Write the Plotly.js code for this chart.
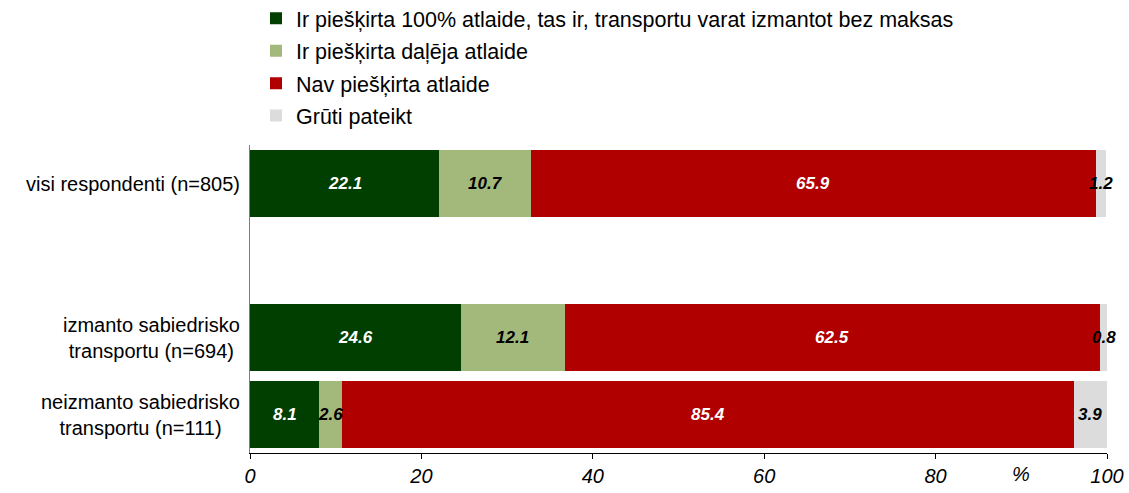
<!DOCTYPE html>
<html>
<head>
<meta charset="utf-8">
<script src="https://cdn.plot.ly/plotly-3.0.1.min.js"></script>
<style>html,body{margin:0;padding:0;background:#fff;}#chart{width:1129px;height:493px;}</style>
</head>
<body>
<div id="chart"></div>
<script>
const categories = ["visi respondenti (n=805)", "", "izmanto sabiedrisko<br>transportu (n=694)", "neizmanto sabiedrisko<br>transportu (n=111)"];
const seriesNames = ["Ir piešķirta 100% atlaide, tas ir, transportu varat izmantot bez maksas", "Ir piešķirta daļēja atlaide", "Nav piešķirta atlaide", "Grūti pateikt"];
const full100 = [22.1, null, 24.6, 8.1];
const partial = [10.7, null, 12.1, 2.6];
const none = [65.9, null, 62.5, 85.4];
const hardToSay = [1.2, null, 0.8, 3.9];
const xTicks = [0, 20, 40, 60, 80, 100];
const colors = ["#003F00", "#A3B97B", "#B00000", "#DCDCDC"];
const textColors = ["#ffffff", "#000000", "#ffffff", "#000000"];

const yKeys = categories.map((c, i) => "c" + i);
const seriesVals = [full100, partial, none, hardToSay];
const FONT = "Liberation Sans, Arial, sans-serif";

const traces = seriesVals.map((vals, k) => ({
  type: "bar",
  orientation: "h",
  name: seriesNames[k],
  legendgroup: "g" + k,
  y: yKeys,
  x: vals,
  marker: {color: colors[k], line: {width: 0}},
  textposition: "none",
  hoverinfo: "none"
}));

const annotations = [];
// value labels centred on each segment
const cum = yKeys.map(() => 0);
seriesVals.forEach((vals, k) => {
  vals.forEach((v, i) => {
    if (v === null) return;
    annotations.push({
      xref: "x", yref: "y", x: cum[i] + v / 2, y: yKeys[i],
      xanchor: "center", yanchor: "middle",
      text: v.toFixed(1), showarrow: false,
      font: {family: FONT, size: 17, color: textColors[k], weight: "bold", style: "italic"}
    });
    cum[i] += v;
  });
});
// category labels (centred lines, right-aligned block)
categories.forEach((c, i) => {
  if (!c) return;
  annotations.push({
    xref: "paper", yref: "y", x: 0, y: yKeys[i],
    xanchor: "right", yanchor: "middle", xshift: -8,
    text: c, align: "center", showarrow: false,
    font: {family: FONT, size: 20, color: "#000"}
  });
});
annotations.push({
  xref: "x", yref: "paper", x: 90, y: 0, yanchor: "top", yshift: -8,
  text: "%", showarrow: false,
  font: {family: FONT, size: 20, color: "#000", style: "italic"}
});

const layout = {
  width: 1129, height: 493,
  margin: {l: 250, r: 22, t: 145, b: 40, pad: 0, autoexpand: false},
  barmode: "stack",
  bargap: 0.12,
  paper_bgcolor: "#fff", plot_bgcolor: "#fff",
  font: {family: FONT, size: 20, color: "#000"},
  showlegend: true,
  legend: {
    x: 0.007, y: 1.478, xanchor: "left", yanchor: "top",
    orientation: "v", traceorder: "grouped", tracegroupgap: 1.5,
    font: {family: FONT, size: 21.5, color: "#000"},
    bgcolor: "rgba(0,0,0,0)"
  },
  xaxis: {
    range: [0, 100], tickvals: xTicks, ticktext: xTicks.map(String),
    showgrid: false, zeroline: false, showline: true, linecolor: "#000", linewidth: 1,
    ticks: "outside", ticklen: 5, tickcolor: "#000",
    tickfont: {family: FONT, size: 20, color: "#000", style: "italic"},
    fixedrange: true
  },
  yaxis: {
    type: "category", categoryorder: "array", categoryarray: yKeys,
    autorange: "reversed",
    showticklabels: false, showgrid: false, zeroline: false,
    showline: true, linecolor: "#808080", linewidth: 1, ticks: "",
    fixedrange: true
  },
  annotations: annotations
};

Plotly.newPlot("chart", traces, layout, {staticPlot: true, displayModeBar: false});
</script>
</body>
</html>
